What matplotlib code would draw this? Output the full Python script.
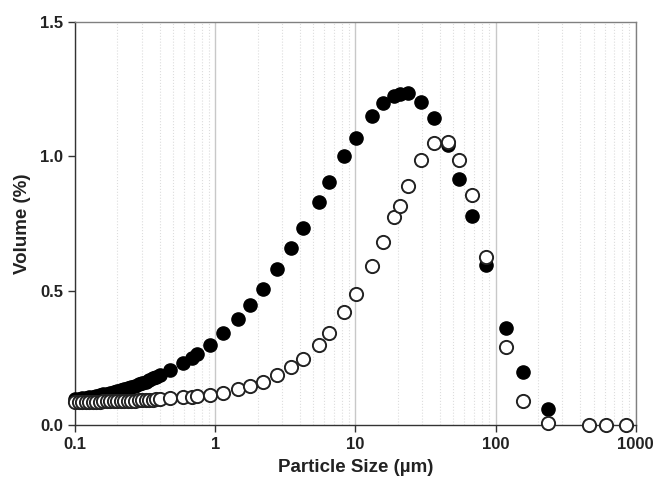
import matplotlib
matplotlib.use("Agg")
import matplotlib.pyplot as plt
from matplotlib.ticker import LogLocator, FixedLocator, FixedFormatter, NullFormatter

plt.rcParams['font.family'] = ['Liberation Sans', 'DejaVu Sans']

# particle size bins (um)
size_a = [0.100, 0.106, 0.112, 0.119, 0.126, 0.133, 0.141, 0.150, 0.159, 0.168,
          0.178, 0.189, 0.200, 0.212, 0.224, 0.238, 0.252, 0.267, 0.283, 0.300,
          0.318, 0.337, 0.357, 0.378, 0.400, 0.475, 0.589, 0.683, 0.741, 0.918,
          1.136, 1.453, 1.769, 2.19, 2.76, 3.47, 4.23, 5.50, 6.47, 8.28,
          10.09, 13.1, 15.7, 18.8, 20.8, 23.7, 29.3, 36.3, 45.7, 54.7,
          67.7, 85.3, 118, 156, 236]
size_b = size_a + [462, 611, 849]

# filled series
vol_filled = [0.095, 0.097, 0.099, 0.101, 0.103, 0.105, 0.108, 0.110, 0.113, 0.116,
              0.119, 0.122, 0.125, 0.129, 0.133, 0.137, 0.141, 0.146, 0.151, 0.156,
              0.161, 0.167, 0.173, 0.179, 0.185, 0.205, 0.231, 0.249, 0.264, 0.298,
              0.342, 0.394, 0.447, 0.506, 0.581, 0.659, 0.733, 0.830, 0.904, 1.001,
              1.068, 1.150, 1.198, 1.224, 1.232, 1.236, 1.202, 1.143, 1.042, 0.916,
              0.778, 0.595, 0.361, 0.197, 0.060]

# open series
vol_open = [0.085, 0.085, 0.085, 0.085, 0.086, 0.086, 0.086, 0.086, 0.087, 0.087,
            0.087, 0.088, 0.088, 0.088, 0.089, 0.089, 0.090, 0.090, 0.091, 0.091,
            0.092, 0.093, 0.094, 0.095, 0.096, 0.100, 0.104, 0.104, 0.108, 0.112,
            0.119, 0.134, 0.145, 0.160, 0.186, 0.216, 0.246, 0.298, 0.342, 0.421,
            0.488, 0.592, 0.681, 0.774, 0.815, 0.889, 0.986, 1.049, 1.053, 0.986,
            0.856, 0.625, 0.290, 0.089, 0.007, 0.0, 0.0, 0.0]

x_ticks = [0.1, 1, 10, 100, 1000]
x_labels = ['0.1', '1', '10', '100', '1000']
y_ticks = [0.0, 0.5, 1.0, 1.5]
y_labels = ['0.0', '0.5', '1.0', '1.5']

fig = plt.figure(figsize=(6.54, 4.80), dpi=100)
ax = fig.add_axes([0.115, 0.115, 0.857, 0.839])

ax.plot(size_a, vol_filled, 'o', color='black', markersize=9.5, zorder=3, clip_on=False)
ax.plot(size_b, vol_open, 'o', markerfacecolor='white', markeredgecolor='#222222',
        markeredgewidth=1.4, markersize=9.5, zorder=4, clip_on=False)

ax.set_xscale('log')
ax.set_xlim(0.1, 1000)
ax.set_ylim(0, 1.5)

ax.xaxis.set_major_locator(FixedLocator(x_ticks))
ax.xaxis.set_major_formatter(FixedFormatter(x_labels))
ax.xaxis.set_minor_locator(LogLocator(base=10, subs=range(2, 10)))
ax.xaxis.set_minor_formatter(NullFormatter())
ax.yaxis.set_major_locator(FixedLocator(y_ticks))
ax.yaxis.set_major_formatter(FixedFormatter(y_labels))

ax.grid(True, which='major', axis='x', color='#c8c8c8', linewidth=1.0, zorder=0)
ax.grid(True, which='minor', axis='x', color='#dddddd', linewidth=0.8, linestyle=':', zorder=0)
ax.set_axisbelow(True)

for s in ('top', 'right'):
    ax.spines[s].set_color('#808080')
    ax.spines[s].set_linewidth(1.0)
for s in ('left', 'bottom'):
    ax.spines[s].set_color('#333333')
    ax.spines[s].set_linewidth(1.0)

ax.tick_params(axis='both', which='major', direction='out', length=5, width=1,
               color='#333333', labelsize=12, pad=3.5)
ax.tick_params(axis='x', which='minor', length=0)
for lab in ax.get_xticklabels() + ax.get_yticklabels():
    lab.set_fontweight('bold')
    lab.set_color('#222222')

ax.set_xlabel('Particle Size (\u00b5m)', fontsize=13.5, fontweight='bold', color='#222222', labelpad=5)
ax.set_ylabel('Volume (%)', fontsize=13.5, fontweight='bold', color='#222222', labelpad=7)

fig.savefig('out.png', dpi=100)
